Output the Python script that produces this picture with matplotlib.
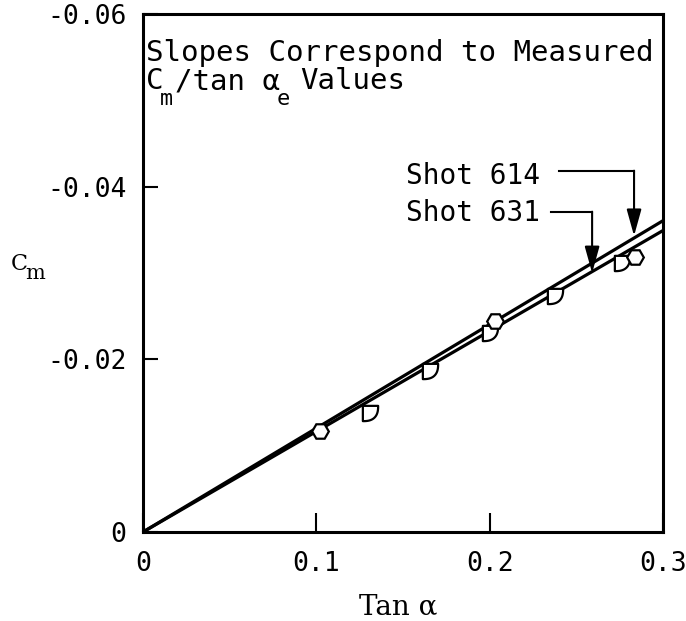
import numpy as np
import matplotlib
matplotlib.use("Agg")
import matplotlib.pyplot as plt
from matplotlib.path import Path

plt.rcParams['font.family'] = ['DejaVu Sans Mono', 'DejaVu Sans']
plt.rcParams['axes.unicode_minus'] = False

# ---- data ----
shot614_tan = [0.102, 0.2031, 0.2839]
shot614_cm = [-0.0117, -0.0244, -0.0319]
shot631_tan = [0.131, 0.1656, 0.2002, 0.2377, 0.2764]
shot631_cm = [-0.0138, -0.0187, -0.0231, -0.0273, -0.0312]
slope614 = -0.1202
slope631 = -0.1164
line_tan = [0.0, 0.3]

xticks = [0, 0.1, 0.2, 0.3]
xticklabels = ['0', '0.1', '0.2', '0.3']
yticks = [0, -0.02, -0.04, -0.06]
yticklabels = ['0', '-0.02', '-0.04', '-0.06']

# leader lines for labels (data coords): (x_start, y_level, x_corner, y_tip)
lead614 = (0.240, -0.04185, 0.2833, -0.0343)
lead631 = (0.2354, -0.0371, 0.2591, -0.0300)

W, H = 686, 621
def fx(p):
    return p / W
def fy(p):
    return 1 - p / H

# ---- figure ----
fig = plt.figure(figsize=(6.86, 6.21), dpi=100)
ax = fig.add_axes([143/W, 1-532/H, (663-143)/W, (532-14)/H])
ax.set_xlim(0, 0.3)
ax.set_ylim(0, -0.06)

for s in ax.spines.values():
    s.set_linewidth(2.2)

lt = np.array(line_tan)
ax.plot(lt, slope614*lt, color='black', lw=2.3, solid_capstyle='butt', zorder=2)
ax.plot(lt, slope631*lt, color='black', lw=2.3, solid_capstyle='butt', zorder=2)

# D-shaped marker: flat top, flat left, rounded lower right
n = 2.6
t = np.linspace(0, np.pi/2, 30)
xs = -1 + 2*np.cos(t)**(2/n)
ys = 1 - 2*np.sin(t)**(2/n)
verts = [(-1, 1)] + list(zip(xs, ys)) + [(-1, 1)]
codes = [Path.MOVETO] + [Path.LINETO]*(len(verts)-2) + [Path.CLOSEPOLY]
dmark = Path(verts, codes)

ax.plot(shot631_tan, shot631_cm, linestyle='none', marker=dmark, markersize=11,
        markerfacecolor='white', markeredgecolor='black', markeredgewidth=1.6, zorder=3)
ax.plot(shot614_tan, shot614_cm, linestyle='none', marker='H', markersize=12,
        markerfacecolor='white', markeredgecolor='black', markeredgewidth=1.6, zorder=3)

ax.set_xticks(xticks)
ax.set_xticklabels(xticklabels)
ax.set_yticks(yticks)
ax.set_yticklabels(yticklabels)
ax.tick_params(axis='x', direction='in', length=13.5, width=1.5, pad=14, labelsize=19, top=False)
ax.tick_params(axis='y', direction='in', length=11, width=1.5, pad=12, labelsize=19, right=False)

# leaders
for (x0, y0, x1, y1) in (lead614, lead631):
    ax.plot([x0, x1], [y0, y0], color='black', lw=1.5, zorder=2)
    ax.annotate('', xy=(x1, y1), xytext=(x1, y0),
                arrowprops=dict(arrowstyle='-|>,head_length=0.9,head_width=0.25',
                                mutation_scale=18, color='black', lw=1.5, shrinkA=0, shrinkB=0))

fs = 21
fig.text(fx(146), fy(61), 'Slopes Correspond to Measured', fontsize=fs, va='baseline', ha='left')
# second line with manually placed subscripts
fig.text(fx(146), fy(89), 'C', fontsize=fs, va='baseline', ha='left')
fig.text(fx(160), fy(105), 'm', fontsize=fs*0.75, va='baseline', ha='left')
fig.text(fx(175), fy(89), '/tan α', fontsize=fs, va='baseline', ha='left')
fig.text(fx(277), fy(105), 'e', fontsize=fs*0.75, va='baseline', ha='left')
fig.text(fx(300), fy(89), 'Values', fontsize=fs, va='baseline', ha='left')

fig.text(fx(406), fy(184), 'Shot 614', fontsize=20, va='baseline', ha='left')
fig.text(fx(406), fy(221), 'Shot 631', fontsize=20, va='baseline', ha='left')

fig.text(fx(398), fy(607), 'Tan α', fontsize=20, family='DejaVu Serif', ha='center', va='center')
fig.text(fx(11), fy(270), 'C', fontsize=16, family='DejaVu Serif', ha='left', va='baseline')
fig.text(fx(25), fy(279), 'm', fontsize=15, family='DejaVu Serif', ha='left', va='baseline')

fig.savefig('out.png', dpi=100)
